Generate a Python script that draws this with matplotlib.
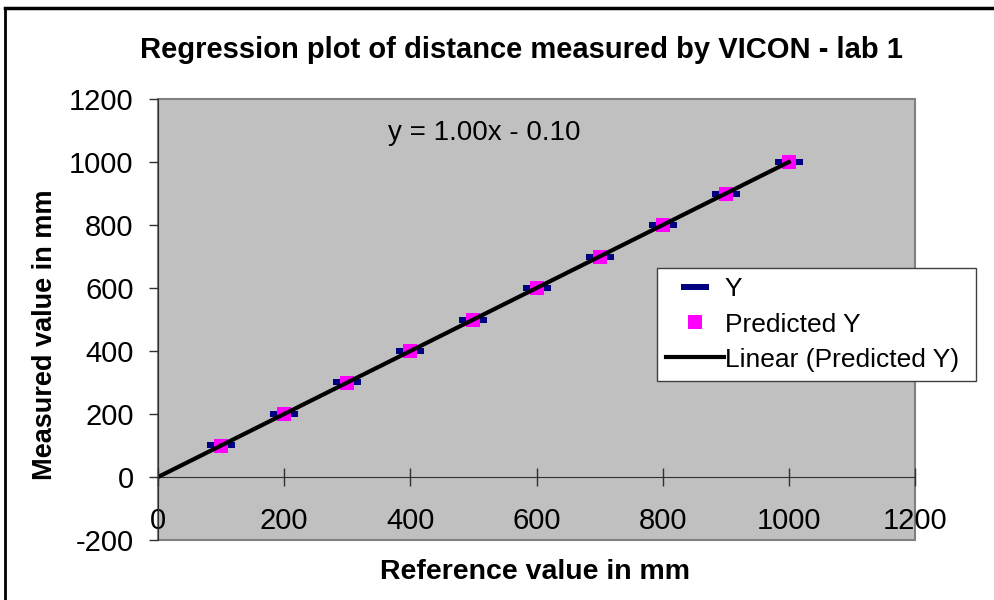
import numpy as np
import matplotlib.pyplot as plt
from matplotlib.lines import Line2D
from matplotlib.patches import Rectangle

plt.rcParams['font.family'] = ['Liberation Sans', 'DejaVu Sans']
plt.rcParams['axes.unicode_minus'] = False

# reference distances and VICON readings (mm)
reference = [100, 200, 300, 400, 500, 600, 700, 800, 900, 1000]
measured = [100.2, 199.8, 300.1, 400.0, 499.7, 600.3, 699.9, 800.1, 900.0, 999.8]
slope = 1.00
intercept = -0.10
predicted = [slope * x + intercept for x in reference]

x_ticks = [0, 200, 400, 600, 800, 1000, 1200]
y_ticks = [-200, 0, 200, 400, 600, 800, 1000, 1200]

fig = plt.figure(figsize=(9.95, 6.0), dpi=100)
ax = fig.add_axes([0.1588, 0.1, 0.7608, 0.735])
ax.set_facecolor('#c0c0c0')

# trend line through the predicted values
fit = np.polyfit(reference, predicted, 1)
xl = np.array([0, 1000])
dash = [(-2, -0.5), (2, -0.5), (2, 0.5), (-2, 0.5)]
ax.plot(reference, measured, linestyle='none', marker=dash, markersize=20,
        color='#000080', markeredgewidth=0, label='Y', zorder=3)
ax.plot(reference, predicted, linestyle='none', marker='s', markersize=10,
        color='#ff00ff', markeredgewidth=0, label='Predicted Y', zorder=4)
ax.plot(xl, np.polyval(fit, xl), color='black', linewidth=3,
        label='Linear (Predicted Y)', zorder=5)

ax.set_xlim(0, 1200)
ax.set_ylim(-200, 1200)
ax.set_xticks(x_ticks)
ax.set_yticks(y_ticks)
ax.tick_params(axis='x', direction='inout', length=13, width=1, pad=15,
               labelsize=21, color='#303030')
ax.tick_params(axis='y', direction='out', length=6.5, width=1, pad=11,
               labelsize=21, color='#303030')

for s in ['top', 'right']:
    ax.spines[s].set_visible(False)
ax.spines['bottom'].set_position(('data', 0))
ax.spines['bottom'].set_color('#303030')
ax.spines['left'].set_color('#303030')
ax.spines['left'].set_zorder(6)

# plot area border
ax.add_patch(Rectangle((0, 0), 1, 1, transform=ax.transAxes, fill=False,
                       edgecolor='#808080', linewidth=1.5, zorder=1, clip_on=False))

ax.text(517, 1092, 'y = 1.00x - 0.10', fontsize=20, ha='center', va='center')

fig.text(0.524, 0.917, 'Regression plot of distance measured by VICON - lab 1',
         fontsize=21, fontweight='bold', ha='center', va='center')
fig.text(0.538, 0.047, 'Reference value in mm', fontsize=20.5,
         fontweight='bold', ha='center', va='center')
fig.text(0.045, 0.442, 'Measured value in mm', fontsize=19.5,
         fontweight='bold', ha='center', va='center', rotation=90)

leg = fig.legend(loc='upper left', bbox_to_anchor=(0.66, 0.553), fontsize=19,
                 frameon=True, fancybox=False, framealpha=1, edgecolor='#404040',
                 borderpad=0.35, labelspacing=0.42, handlelength=2.2,
                 handletextpad=0.05, borderaxespad=0)
leg.get_frame().set_linewidth(1)
# a bit of extra room right of the labels
leg._legend_box.sep = 0
for t in leg.get_texts():
    t.set_text(t.get_text() + ' ')

# outer frame lines
fig.add_artist(Line2D([0.005, 1.0], [0.987, 0.987], color='black', linewidth=2.5))
fig.add_artist(Line2D([0.005, 0.005], [0.0, 0.987], color='black', linewidth=2))

fig.savefig('out.png', dpi=100)
